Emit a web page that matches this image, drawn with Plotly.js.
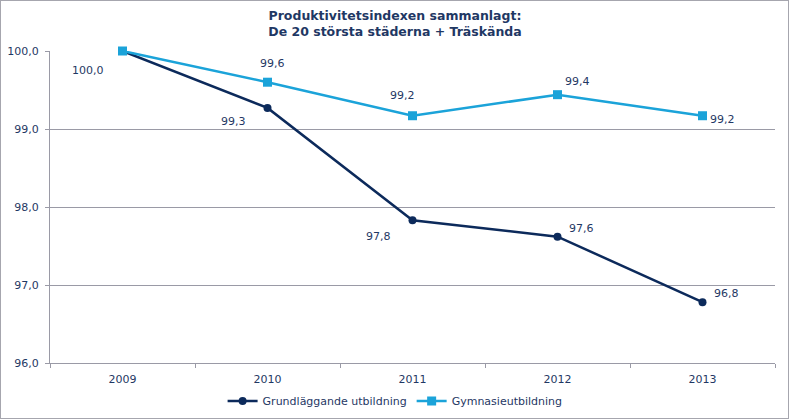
<!DOCTYPE html>
<html><head><meta charset="utf-8">
<script src="https://cdn.plot.ly/plotly-3.0.1.min.js"></script>
<style>html,body{margin:0;padding:0;background:#fff}#wrap{position:relative;width:790px;height:420px}#frame{position:absolute;left:0;top:0;width:789px;height:419px;border:1px solid #a6a6ae;box-sizing:border-box;pointer-events:none}</style>
</head><body>
<div id="wrap"><div id="chart" style="width:790px;height:420px"></div><div id="frame"></div></div>
<script>
const years = ['2009','2010','2011','2012','2013'];
const grund = [100.0, 99.27, 97.83, 97.62, 96.78];
const gymn = [100.0, 99.60, 99.17, 99.44, 99.17];
const grundLabels = ['100,0','99,3','97,8','97,6','96,8'];
const gymnLabels = ['','99,6','99,2','99,4','99,2'];
const yTicks = [96,97,98,99,100];
const yTickText = ['96,0','97,0','98,0','99,0','100,0'];

const navy = '#0c2a5b';
const cyan = '#1ba3d9';
const labelColor = '#1f3864';
const font = 'Verdana, "DejaVu Sans", sans-serif';

// label pixel offsets (style)
const grundShift = [[-35,-19],[-34,-14],[-34,-16],[24,8],[24,9]];
const gymnShift = [[0,0],[5,19],[-10,20],[20,13],[20,-4]];

const annotations = [];
years.forEach((yr,i)=>{
  if (grundLabels[i]) annotations.push({xref:'x', yref:'y', x:i, y:grund[i], text:grundLabels[i], showarrow:false, xshift:grundShift[i][0], yshift:grundShift[i][1], font:{family:font,size:11,color:labelColor}});
  if (gymnLabels[i]) annotations.push({xref:'x', yref:'y', x:i, y:gymn[i], text:gymnLabels[i], showarrow:false, xshift:gymnShift[i][0], yshift:gymnShift[i][1], font:{family:font,size:11,color:labelColor}});
});

const traces = [
 {x: years, y: grund, name: 'Grundläggande utbildning', type:'scatter', mode:'lines+markers',
  line:{color:navy,width:2.5}, marker:{symbol:'circle',size:8,color:navy}, cliponaxis:false},
 {x: years, y: gymn, name: 'Gymnasieutbildning', type:'scatter', mode:'lines+markers',
  line:{color:cyan,width:2.5}, marker:{symbol:'square',size:9,color:cyan}, cliponaxis:false}
];
const layout = {
 width:790, height:420, paper_bgcolor:'#fff', plot_bgcolor:'#fff',
 margin:{l:50,r:15,t:51,b:57, autoexpand:false},
 font:{family:font,size:11,color:labelColor},
 title:{text:'<b>Produktivitetsindexen sammanlagt:<br>De 20 största städerna + Träskända</b>', x:0.5, xanchor:'center', yref:'container', y:0.953, yanchor:'middle', font:{family:font,size:12.5,color:labelColor}},
 xaxis:{type:'category', range:[-0.5,4.5], showgrid:false, showline:true, linecolor:'#9a9aa6', linewidth:1,
   ticks:'outside', tickson:'boundaries', ticklen:4, tickcolor:'#9a9aa6', ticklabelstandoff:6, tickfont:{family:font,size:11,color:labelColor}},
 yaxis:{range:[96,100], tickvals:yTicks, ticktext:yTickText, showgrid:true, gridcolor:'#9a9aa6', gridwidth:1,
   showline:true, linecolor:'#9a9aa6', ticks:'outside', ticklen:4, tickcolor:'#9a9aa6', zeroline:false, ticklabelstandoff:4,
   tickfont:{family:font,size:11,color:labelColor}},
 annotations: annotations,
 showlegend:true,
 legend:{orientation:'h', x:0.476, xanchor:'center', y:-0.122, yanchor:'middle', font:{family:font,size:11,color:labelColor}, itemwidth:30, tracegroupgap:0}
};
Plotly.newPlot('chart', traces, layout, {displayModeBar:false, staticPlot:true});
</script>
</body></html>
